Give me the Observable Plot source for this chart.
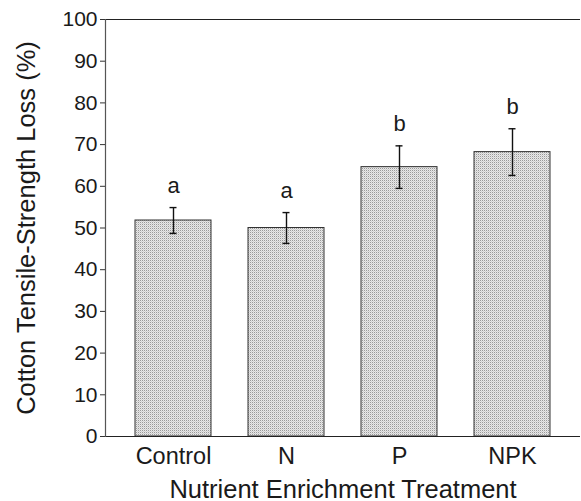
<!DOCTYPE html>
<html>
<head>
<meta charset="utf-8">
<script src="https://cdn.jsdelivr.net/npm/d3@7"></script>
<script src="https://cdn.jsdelivr.net/npm/@observablehq/plot@0.6"></script>
<style>
  html, body { margin: 0; padding: 0; background: #fff; }
  #chart svg { display: block; }
</style>
</head>
<body>
<div id="chart"></div>
<script>
const treatments = ["Control", "N", "P", "NPK"];
const means = [51.8, 50.0, 64.6, 68.2];
const errors = [3.1, 3.7, 5.1, 5.6];
const letters = ["a", "a", "b", "b"];
const yTicks = [0, 10, 20, 30, 40, 50, 60, 70, 80, 90, 100];
const xTitle = "Nutrient Enrichment Treatment";
const yTitle = "Cotton Tensile-Strength Loss (%)";

const data = treatments.map((t, i) => ({
  t, mean: means[i], lo: means[i] - errors[i], hi: means[i] + errors[i], letter: letters[i]
}));

const font = "'Liberation Sans', Arial, Helvetica, sans-serif";

const chart = Plot.plot({
  width: 581,
  height: 501,
  marginLeft: 105,
  marginRight: 1,
  marginTop: 19,
  marginBottom: 65,
  style: { fontFamily: font, fontSize: "21px", color: "#1a1a1a", background: "#fff" },
  x: { domain: treatments, paddingInner: 0.33, paddingOuter: 0.257, label: null },
  y: { domain: [0, 100], label: null },
  marks: [
    Plot.barY(data, { x: "t", y: "mean", fill: "url(#stipple)", stroke: "#333", strokeWidth: 1 }),
    Plot.ruleX(data, { x: "t", y1: "lo", y2: "hi", stroke: "#111", strokeWidth: 1.4 }),
    Plot.tickY(data, { x: "t", y: "lo", stroke: "#111", strokeWidth: 1.4, insetLeft: 34.5, insetRight: 34.5 }),
    Plot.tickY(data, { x: "t", y: "hi", stroke: "#111", strokeWidth: 1.4, insetLeft: 34.5, insetRight: 34.5 }),
    Plot.text(data, { x: "t", y: "hi", text: "letter", lineAnchor: "bottom", dy: -15, fontSize: 22, fill: "#1a1a1a" }),
    Plot.axisY({ ticks: yTicks, tickSize: 5, tickPadding: 3, fontSize: 21, label: null, stroke: "#333" }),
    Plot.axisX({ tickSize: 0, tickPadding: 11, fontSize: 23.5, label: null }),
    Plot.ruleY([0, 100], { stroke: "#222", strokeWidth: 1.2 }),
    Plot.frame({ anchor: "left", stroke: "#555", strokeWidth: 1.2 }),
    Plot.text([xTitle], { frameAnchor: "bottom", lineAnchor: "bottom", dy: 61, fontSize: 25.5, fill: "#1a1a1a" }),
    Plot.text([yTitle], { frameAnchor: "left", textAnchor: "middle", rotate: -90, dx: -79, fontSize: 25.5, fill: "#1a1a1a" })
  ]
});

const ns = "http://www.w3.org/2000/svg";
const defs = document.createElementNS(ns, "defs");
const pat = document.createElementNS(ns, "pattern");
pat.setAttribute("id", "stipple");
pat.setAttribute("patternUnits", "userSpaceOnUse");
pat.setAttribute("width", "2");
pat.setAttribute("height", "2");
const bg = document.createElementNS(ns, "rect");
bg.setAttribute("width", "2"); bg.setAttribute("height", "2"); bg.setAttribute("fill", "#e8e8e8");
const d1 = document.createElementNS(ns, "rect");
d1.setAttribute("width", "1"); d1.setAttribute("height", "1"); d1.setAttribute("fill", "#999999");
const d2 = document.createElementNS(ns, "rect");
d2.setAttribute("x", "1"); d2.setAttribute("y", "1"); d2.setAttribute("width", "1"); d2.setAttribute("height", "1"); d2.setAttribute("fill", "#d0d0d0");
pat.appendChild(bg); pat.appendChild(d1); pat.appendChild(d2);
defs.appendChild(pat);
chart.insertBefore(defs, chart.firstChild);

document.getElementById("chart").appendChild(chart);
</script>
</body>
</html>
